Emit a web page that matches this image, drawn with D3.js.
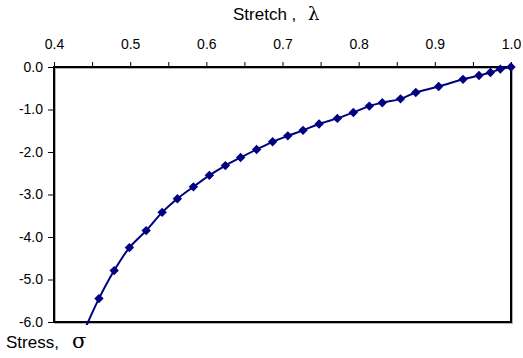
<!DOCTYPE html>
<html>
<head>
<meta charset="utf-8">
<script src="https://cdn.jsdelivr.net/npm/d3@7"></script>
<style>
  body { margin: 0; background: #fff; }
  text { font-family: "Liberation Sans", Arial, sans-serif; fill: #000; }
</style>
</head>
<body>
<svg id="chart" width="523" height="358"></svg>
<script>
// stretch (lambda) and stress (sigma)
const lambda = [0.459, 0.479, 0.499, 0.521, 0.542, 0.562, 0.583, 0.604, 0.625, 0.645, 0.666, 0.687,
                0.707, 0.727, 0.748, 0.772, 0.793, 0.814, 0.831, 0.855, 0.875, 0.905, 0.937, 0.958,
                0.973, 0.986, 1.0];
const stress = [-5.45, -4.79, -4.25, -3.85, -3.42, -3.10, -2.82, -2.55, -2.32, -2.13, -1.94, -1.76,
                -1.62, -1.49, -1.34, -1.21, -1.07, -0.92, -0.84, -0.75, -0.60, -0.46, -0.29, -0.20,
                -0.13, -0.05, 0.0];
// where the fitted curve runs out past the bottom of the plot
const tailLambda = 0.441;
const tailStress = -6.15;

const xTicks = d3.range(0, 13).map(i => 0.4 + i * 0.05);
const yTicks = [0, -1, -2, -3, -4, -5, -6];

const svg = d3.select('#chart');
const plotL = 54, plotR = 511, plotT = 67, plotB = 322;

const x = d3.scaleLinear().domain([0.4, 1.0]).range([plotL, plotR]);
const y = d3.scaleLinear().domain([-6, 0]).range([plotB, plotT]);

// x axis along the top, labels every 0.1
const xAxis = svg.append('g')
    .attr('transform', `translate(0,${plotT})`)
    .call(d3.axisTop(x)
      .tickValues(xTicks)
      .tickSize(5)
      .tickPadding(13)
      .tickFormat((d, i) => i % 2 === 0 ? d.toFixed(1) : ''));
xAxis.select('.domain').remove();
xAxis.selectAll('line').attr('stroke', '#000').attr('stroke-width', 1);
xAxis.selectAll('text').style('font-size', '14px').attr('font-family', null);

const yAxis = svg.append('g')
    .attr('transform', `translate(${plotL},0)`)
    .call(d3.axisLeft(y)
      .tickValues(yTicks)
      .tickSize(6)
      .tickPadding(5)
      .tickFormat(d => d.toFixed(1)));
yAxis.select('.domain').remove();
yAxis.selectAll('line').attr('stroke', '#000').attr('stroke-width', 1);
yAxis.selectAll('text').style('font-size', '14px').attr('font-family', null);

// frame, with the grey shadow Excel gives its lines
svg.append('rect')
    .attr('x', plotL + 1).attr('y', plotT + 1)
    .attr('width', plotR - plotL).attr('height', plotB - plotT)
    .attr('fill', 'none').attr('stroke', '#999').attr('stroke-width', 1.5);
svg.append('rect')
    .attr('x', plotL).attr('y', plotT)
    .attr('width', plotR - plotL).attr('height', plotB - plotT)
    .attr('fill', 'none').attr('stroke', '#000').attr('stroke-width', 2);

svg.append('clipPath').attr('id', 'plotClip')
  .append('rect')
    .attr('x', plotL).attr('y', plotT - 10)
    .attr('width', plotR - plotL + 10).attr('height', plotB - plotT + 13);

const pts = lambda.map((l, i) => [l, stress[i]]);
const linePts = [[tailLambda, tailStress]].concat(pts);

const line = d3.line()
    .x(d => x(d[0]))
    .y(d => y(d[1]))
    .curve(d3.curveCatmullRom);

svg.append('path')
    .datum(linePts)
    .attr('clip-path', 'url(#plotClip)')
    .attr('d', line)
    .attr('fill', 'none')
    .attr('stroke', '#000080')
    .attr('stroke-width', 2);

svg.selectAll('.pt')
    .data(pts)
    .enter()
    .append('path')
    .attr('class', 'pt')
    .attr('d', d3.symbol(d3.symbolSquare, 44))
    .attr('transform', d => `translate(${x(d[0])},${y(d[1])}) rotate(45)`)
    .attr('fill', '#000080');

// titles
const title = svg.append('text')
    .attr('x', 233).attr('y', 20)
    .style('font-size', '17px');
title.append('tspan').text('Stretch ,');
title.append('tspan').attr('x', 308)
    .style('font-family', '"DejaVu Serif", serif').style('font-size', '18px').text('λ');

const ylab = svg.append('text')
    .attr('x', 6).attr('y', 348)
    .style('font-size', '17px');
ylab.append('tspan').text('Stress,');
ylab.append('tspan').attr('x', 72)
    .style('font-family', '"DejaVu Serif", serif').style('font-size', '21px').text('σ');
</script>
</body>
</html>
